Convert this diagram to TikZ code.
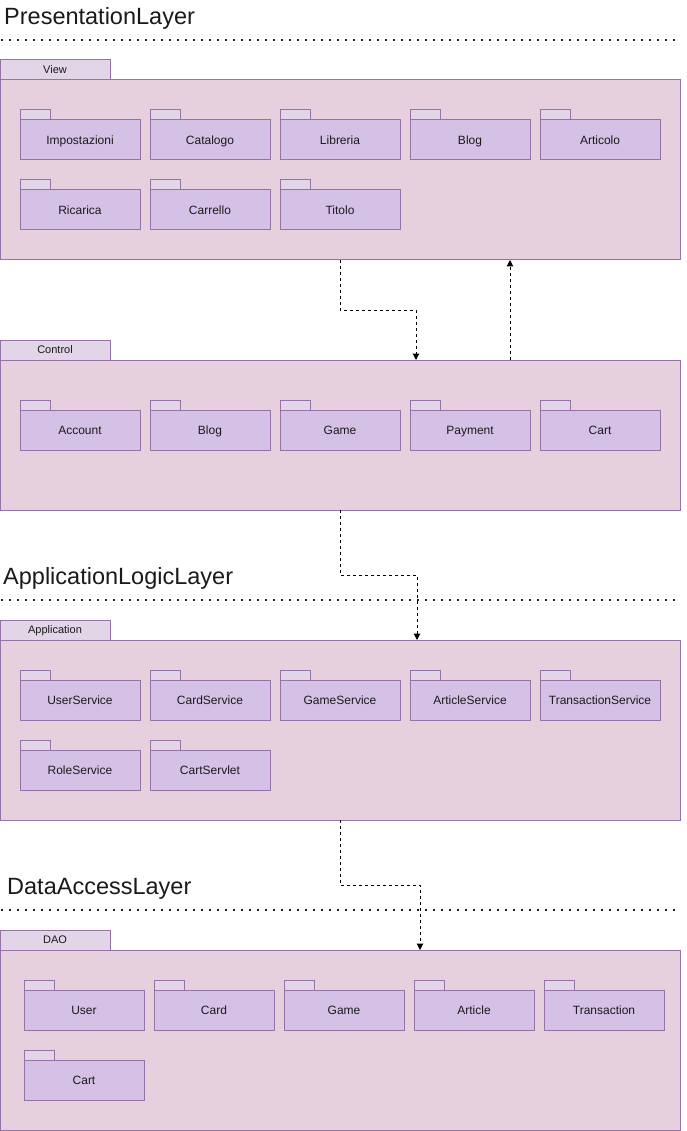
\documentclass[tikz,border=0pt]{standalone}
\usepackage{fontspec}
\setmainfont{Liberation Sans}
\usetikzlibrary{arrows.meta}
\definecolor{bigfill}{HTML}{E6D0DE}
\definecolor{bigtab}{HTML}{E1D5E7}
\definecolor{smfill}{HTML}{D6C1E6}
\definecolor{smtab}{HTML}{E1D5E7}
\definecolor{pstroke}{HTML}{9673A6}
\definecolor{txt}{HTML}{1A1A1A}
\tikzset{
  bigbody/.style={draw=pstroke, fill=bigfill, line width=1pt, minimum width=680pt, minimum height=#1, anchor=north west, inner sep=0pt, outer sep=0pt},
  bigtabst/.style={draw=pstroke, fill=bigtab, line width=1pt, minimum width=110pt, minimum height=20pt, anchor=south west, inner sep=0pt, outer sep=0pt, text=txt, font=\fontsize{11}{13}\selectfont, text height=8.8pt, text depth=1.2pt},
  smbody/.style={draw=pstroke, fill=smfill, line width=1pt, minimum width=120pt, minimum height=40pt, anchor=north west, inner sep=0pt, outer sep=0pt, text=txt, font=\fontsize{12}{14}\selectfont, text height=9.6pt, text depth=0.8pt},
  smtabst/.style={draw=pstroke, fill=smtab, line width=1pt, minimum width=30pt, minimum height=10pt, anchor=south west, inner sep=0pt, outer sep=0pt},
  dep/.style={line width=1pt, dash pattern=on 3pt off 3pt, -{Triangle[length=6.5pt,width=6.5pt]}},
  layer/.style={anchor=base west, inner sep=0pt, text=txt, font=\fontsize{23.5}{28}\selectfont},
  sepline/.style={line width=2pt, dash pattern=on 2pt off 6pt, line cap=butt, draw=txt}
}
\newcommand\pk[4]{%
  \node[smbody] (#1) at (#2,#3) {#4};
  \node[smtabst] (#1t) at (#1.north west) {};
}
\begin{document}
\begin{tikzpicture}[x=1pt,y=-1pt]
\useasboundingbox (0,0) rectangle (687,1131);

% ---- Presentation layer
\node[layer] (tpres) at (4,25) {PresentationLayer};
\coordinate (s1a) at (1,40); \coordinate (s1b) at (676,40);
\draw[sepline] (s1a) -- (s1b);

\node[bigbody=180pt] (view) at (0,80) {};
\node[bigtabst] (viewt) at (view.north west) {View};
\pk{impost}{20}{120}{Impostazioni}
\pk{catalogo}{150}{120}{Catalogo}
\pk{libreria}{280}{120}{Libreria}
\pk{blogv}{410}{120}{Blog}
\pk{articolo}{540}{120}{Articolo}
\pk{ricarica}{20}{190}{Ricarica}
\pk{carrello}{150}{190}{Carrello}
\pk{titolo}{280}{190}{Titolo}

\node[bigbody=150pt] (control) at (0,360) {};
\node[bigtabst] (controlt) at (control.north west) {Control};
\pk{account}{20}{410}{Account}
\pk{blogc}{150}{410}{Blog}
\pk{gamec}{280}{410}{Game}
\pk{payment}{410}{410}{Payment}
\pk{cartc}{540}{410}{Cart}

\draw[dep] ([xshift=340pt]view.south west) -- ++(0,50) -| ([xshift=416pt]control.north west);
\draw[dep] ([xshift=510pt]control.north west) -- ([xshift=510pt]view.south west);

% ---- Application logic layer
\node[layer] (tapp) at (3,584) {ApplicationLogicLayer};
\coordinate (s2a) at (1,600); \coordinate (s2b) at (676,600);
\draw[sepline] (s2a) -- (s2b);

\node[bigbody=180pt] (app) at (0,640) {};
\node[bigtabst] (appt) at (app.north west) {Application};
\pk{usersvc}{20}{680}{UserService}
\pk{cardsvc}{150}{680}{CardService}
\pk{gamesvc}{280}{680}{GameService}
\pk{articlesvc}{410}{680}{ArticleService}
\pk{transsvc}{540}{680}{TransactionService}
\pk{rolesvc}{20}{750}{RoleService}
\pk{cartservlet}{150}{750}{CartServlet}

\draw[dep] ([xshift=340pt]control.south west) -- ++(0,65) -| ([xshift=417pt]app.north west);

% ---- Data access layer
\node[layer] (tdata) at (7,894) {DataAccessLayer};
\coordinate (s3a) at (1,910); \coordinate (s3b) at (676,910);
\draw[sepline] (s3a) -- (s3b);

\node[bigbody=180pt] (dao) at (0,950) {};
\node[bigtabst] (daot) at (dao.north west) {DAO};
\pk{user}{24}{990}{User}
\pk{card}{154}{990}{Card}
\pk{game}{284}{990}{Game}
\pk{article}{414}{990}{Article}
\pk{transaction}{544}{990}{Transaction}
\pk{cartd}{24}{1060}{Cart}

\draw[dep] ([xshift=340pt]app.south west) -- ++(0,65) -| ([xshift=420pt]dao.north west);
\end{tikzpicture}
\end{document}
